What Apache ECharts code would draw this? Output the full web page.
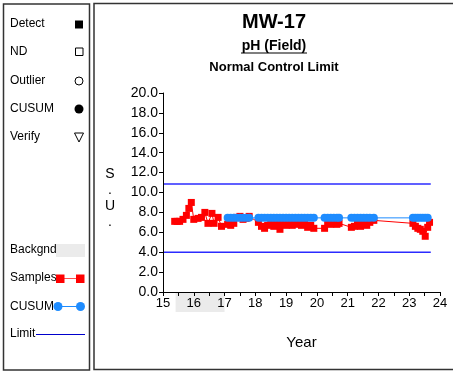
<!DOCTYPE html>
<html><head><meta charset="utf-8">
<script src="https://cdn.jsdelivr.net/npm/echarts@6/dist/echarts.min.js"></script>
<style>html,body{margin:0;padding:0;background:#fff}#c{width:453px;height:373px}</style>
</head><body><div id="c"></div>
<script>
const sampleYears = [15.38,15.46,15.54,15.65,15.76,15.84,15.92,16.00,16.14,16.25,16.36,16.46,16.59,16.66,16.79,16.90,
17.10,17.20,17.30,17.40,17.50,17.60,17.70,17.80,
18.10,18.20,18.30,18.40,18.50,18.60,18.70,18.80,18.90,19.00,19.10,19.20,19.30,19.40,19.50,19.60,19.70,19.80,19.90,
20.25,20.35,20.45,20.55,20.65,20.72,
21.12,21.22,21.32,21.42,21.52,21.62,21.72,21.85,
23.12,23.20,23.28,23.36,23.44,23.52,23.60,23.66];
const sampleValues = [7.1,7.1,7.1,7.3,7.7,8.4,9.0,7.3,7.4,7.5,8.0,6.9,7.9,6.9,7.5,6.6,
6.8,6.7,6.9,7.5,7.6,7.3,7.4,7.6,
7.0,6.6,6.4,6.7,6.9,6.6,6.8,6.3,6.9,6.7,6.9,6.7,6.8,6.9,6.7,6.8,6.5,6.7,6.4,
6.4,6.9,6.8,7.0,6.8,6.9,
6.5,6.6,6.8,6.6,6.9,6.7,7.0,7.2,
6.9,6.6,6.4,6.3,6.1,5.6,6.5,7.0];
const cusumYears = [17.10,17.20,17.30,17.40,17.50,17.60,17.70,17.80,
18.10,18.20,18.30,18.40,18.50,18.60,18.70,18.80,18.90,19.00,19.10,19.20,19.30,19.40,19.50,19.60,19.70,19.80,19.90,
20.25,20.35,20.45,20.55,20.65,20.72,
21.12,21.22,21.32,21.42,21.52,21.62,21.72,21.85,
23.12,23.20,23.28,23.36,23.44,23.52,23.60];
const cusumValues = [7.45,7.45,7.45,7.45,7.45,7.45,7.45,7.45,
7.45,7.45,7.45,7.45,7.45,7.45,7.45,7.45,7.45,7.45,7.45,7.45,7.45,7.45,7.45,7.45,7.45,7.45,7.45,
7.45,7.45,7.45,7.45,7.45,7.45,
7.45,7.45,7.45,7.45,7.45,7.45,7.45,7.45,
7.45,7.45,7.45,7.45,7.45,7.45,7.45];
const limitYears = [15, 23.7];
const upperLimit = 10.85;
const lowerLimit = 4.0;
const backgroundRange = [15.41, 17.0];
const xTicks = {min: 15, max: 24, step: 1};
const yTicks = {min: 0, max: 20, step: 2};

const FONT = 'Liberation Sans, Arial, sans-serif';
const RED = '#ff0000';
const BLUE = '#1e8cff';
const LIMIT = '#2b2bff';

const chart = echarts.init(document.getElementById('c'), null, {renderer: 'canvas'});

function legendText(txt, y) {
  return {type: 'text', x: 10, y: y, style: {text: txt, font: '12px ' + FONT, fill: '#000', verticalAlign: 'middle'}};
}

const graphics = [
  {type: 'rect', shape: {x: 3.5, y: 4, width: 86, height: 366}, style: {fill: 'none', stroke: '#333', lineWidth: 1.5}},
  {type: 'rect', shape: {x: 94, y: 3.5, width: 400, height: 366}, style: {fill: 'none', stroke: '#333', lineWidth: 1.5}},
  legendText('Detect', 24),
  {type: 'rect', shape: {x: 75, y: 20.5, width: 8, height: 8}, style: {fill: '#000'}},
  legendText('ND', 52),
  {type: 'rect', shape: {x: 75.5, y: 48, width: 7.5, height: 7.5}, style: {fill: 'none', stroke: '#000', lineWidth: 1}},
  legendText('Outlier', 81),
  {type: 'circle', shape: {cx: 79, cy: 81, r: 4}, style: {fill: 'none', stroke: '#000', lineWidth: 1}},
  legendText('CUSUM', 109),
  {type: 'circle', shape: {cx: 79, cy: 109, r: 4.5}, style: {fill: '#000'}},
  legendText('Verify', 137),
  {type: 'polygon', shape: {points: [[74.5, 133], [83.5, 133], [79, 142]]}, style: {fill: 'none', stroke: '#000', lineWidth: 1}},
  legendText('Backgnd', 250),
  {type: 'rect', shape: {x: 56, y: 244, width: 29, height: 13}, style: {fill: '#ebebeb'}},
  legendText('Samples', 278),
  {type: 'line', shape: {x1: 60, y1: 278.5, x2: 80.5, y2: 278.5}, style: {stroke: '#ff5050', lineWidth: 1}},
  {type: 'rect', shape: {x: 56, y: 274.5, width: 8.5, height: 8.5}, style: {fill: RED}},
  {type: 'rect', shape: {x: 76, y: 274.5, width: 8.5, height: 8.5}, style: {fill: RED}},
  legendText('CUSUM', 307),
  {type: 'line', shape: {x1: 58, y1: 306.5, x2: 80.5, y2: 306.5}, style: {stroke: BLUE, lineWidth: 1}},
  {type: 'circle', shape: {cx: 58, cy: 306.5, r: 4.5}, style: {fill: BLUE}},
  {type: 'circle', shape: {cx: 80.5, cy: 306.5, r: 4.5}, style: {fill: BLUE}},
  legendText('Limit', 334),
  {type: 'line', shape: {x1: 36, y1: 334.5, x2: 85, y2: 334.5}, style: {stroke: '#0000cc', lineWidth: 1}},
  {type: 'text', x: 110, y: 198, style: {text: 'S\n.\nU\n.', font: '14px ' + FONT, fill: '#000', align: 'center', verticalAlign: 'middle', lineHeight: 16}},
  {type: 'line', shape: {x1: 241, y1: 53, x2: 307, y2: 53}, style: {stroke: '#000', lineWidth: 1.2}}
];

const option = {
  animation: false,
  backgroundColor: '#fff',
  textStyle: {fontFamily: FONT},
  title: [
    {text: 'MW-17', left: 269, top: 7, textAlign: 'center', textStyle: {fontFamily: FONT, fontSize: 20, fontWeight: 'bold', color: '#000'}},
    {text: 'pH (Field)', left: 269, top: 34, textAlign: 'center', textStyle: {fontFamily: FONT, fontSize: 14, fontWeight: 'bold', color: '#000'}},
    {text: 'Normal Control Limit', left: 269, top: 56, textAlign: 'center', textStyle: {fontFamily: FONT, fontSize: 13, fontWeight: 'bold', color: '#000'}}
  ],
  grid: [
    {left: 163, right: 13, top: 93, bottom: 81, containLabel: false},
    {left: 163, right: 13, top: 292, height: 20, containLabel: false}
  ],
  xAxis: [
    {type: 'value', gridIndex: 0, min: xTicks.min, max: xTicks.max, interval: xTicks.step, z: 10,
     name: 'Year', nameLocation: 'middle', nameGap: 43,
     nameTextStyle: {fontFamily: FONT, fontSize: 15, color: '#000'},
     axisLine: {show: true, onZero: false, lineStyle: {color: '#000', width: 1}},
     axisTick: {show: true, inside: false, length: 4, lineStyle: {color: '#000'}},
     minorTick: {show: true, splitNumber: 2, length: 4, lineStyle: {color: '#000'}},
     splitLine: {show: false}, minorSplitLine: {show: false},
     axisLabel: {fontFamily: FONT, fontSize: 13, color: '#000', margin: 5}},
    {type: 'value', gridIndex: 1, min: xTicks.min, max: xTicks.max, show: false}
  ],
  yAxis: [
    {type: 'value', gridIndex: 0, min: yTicks.min, max: yTicks.max, interval: yTicks.step, z: 10,
     axisLine: {show: true, lineStyle: {color: '#000', width: 1}},
     axisTick: {show: true, inside: false, length: 4, lineStyle: {color: '#000'}},
     splitLine: {show: false},
     axisLabel: {fontFamily: FONT, fontSize: 14, color: '#000', margin: 5, formatter: v => v.toFixed(1)}},
    {type: 'value', gridIndex: 1, min: 0, max: 1, show: false}
  ],
  series: [
    {type: 'custom', xAxisIndex: 1, yAxisIndex: 1, z: 0, silent: true,
     data: [[backgroundRange[0], backgroundRange[1], 0]],
     encode: {x: [0, 1], y: 2},
     renderItem: (params, api) => {
       const p0 = api.coord([api.value(0), 1]);
       const p1 = api.coord([api.value(1), 0]);
       return {type: 'rect', shape: {x: p0[0], y: p0[1], width: p1[0] - p0[0], height: p1[1] - p0[1]}, style: {fill: '#ebebeb'}};
     }},
    {name: 'Upper', type: 'line', symbol: 'none', z: 2,
     data: limitYears.map(x => [x, upperLimit]), lineStyle: {color: LIMIT, width: 1.5}},
    {name: 'Lower', type: 'line', symbol: 'none', z: 2,
     data: limitYears.map(x => [x, lowerLimit]), lineStyle: {color: LIMIT, width: 1.5}},
    {name: 'Samples', type: 'line', symbol: 'rect', symbolSize: 7, z: 3,
     data: sampleYears.map((x, i) => [x, sampleValues[i]]),
     itemStyle: {color: RED}, lineStyle: {color: RED, width: 1}},
    {name: 'CUSUM', type: 'line', symbol: 'circle', symbolSize: 8, z: 4,
     data: cusumYears.map((x, i) => [x, cusumValues[i]]),
     itemStyle: {color: BLUE}, lineStyle: {color: BLUE, width: 1}}
  ],
  graphic: graphics
};
chart.setOption(option);
</script>
</body></html>
